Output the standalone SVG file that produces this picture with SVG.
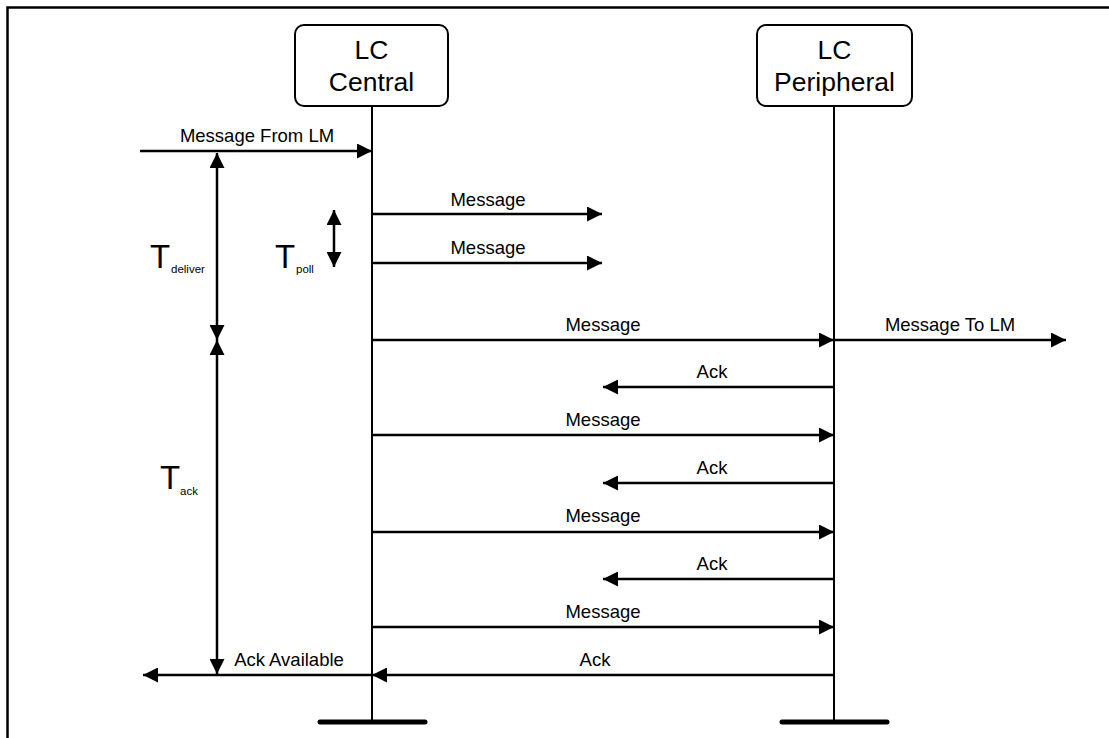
<svg xmlns="http://www.w3.org/2000/svg" width="1109" height="738" viewBox="0 0 1109 738">
<defs>
<style>
.frame{fill:none;stroke:#000;stroke-width:2.5}
.box{fill:#fff;stroke:#000;stroke-width:2}
.life{stroke:#000;stroke-width:2;fill:none}
.bar{stroke:#000;stroke-width:5;stroke-linecap:round}
.msg{stroke:#000;stroke-width:2.5;fill:none;marker-end:url(#ah)}
.dbl{stroke:#000;stroke-width:2.5;fill:none;marker-end:url(#ah);marker-start:url(#ah)}
text{font-family:"Liberation Sans",Arial,sans-serif;fill:#000}
.node{font-size:26.5px;text-anchor:middle}
.lbl{font-size:18.5px;text-anchor:middle}
.big{font-size:33px}
.sub{font-size:11.5px}
</style>
<marker id="ah" markerUnits="userSpaceOnUse" markerWidth="16" markerHeight="15" refX="15" refY="7.5" orient="auto-start-reverse" viewBox="0 0 16 15">
<path d="M0,0 L15,7.5 L0,15 z" fill="#000"/>
</marker>
</defs>
<rect width="1109" height="738" fill="#fff"/>
<path class="frame" d="M7.5,738 V7.5 H1109"/>

<g id="lifelines">
<line class="life" x1="372" y1="106" x2="372" y2="722"/>
<line class="life" x1="834" y1="106" x2="834" y2="722"/>
<line class="bar" x1="320" y1="722" x2="425" y2="722"/>
<line class="bar" x1="782" y1="722" x2="887" y2="722"/>
</g>

<g id="central">
<rect class="box" x="295" y="25" width="153" height="81" rx="9"/>
<text class="node" x="371.5" y="59">LC</text>
<text class="node" x="371.5" y="91">Central</text>
</g>
<g id="peripheral">
<rect class="box" x="757" y="25" width="155" height="81" rx="9"/>
<text class="node" x="834.5" y="59">LC</text>
<text class="node" x="834.5" y="91">Peripheral</text>
</g>

<g id="connectors">
<line class="msg" x1="140" y1="151" x2="372" y2="151"/>
<line class="msg" x1="372" y1="214" x2="602" y2="214"/>
<line class="msg" x1="372" y1="263" x2="602" y2="263"/>
<line class="msg" x1="372" y1="340" x2="834" y2="340"/>
<line class="msg" x1="834" y1="340" x2="1066" y2="340"/>
<line class="msg" x1="834" y1="387" x2="603" y2="387"/>
<line class="msg" x1="372" y1="435" x2="834" y2="435"/>
<line class="msg" x1="834" y1="483" x2="603" y2="483"/>
<line class="msg" x1="372" y1="532" x2="834" y2="532"/>
<line class="msg" x1="834" y1="579" x2="603" y2="579"/>
<line class="msg" x1="372" y1="627" x2="834" y2="627"/>
<line class="msg" x1="834" y1="675" x2="372" y2="675"/>
<line class="msg" x1="372" y1="675" x2="143" y2="675"/>
<line class="dbl" x1="217" y1="153" x2="217" y2="340"/>
<line class="dbl" x1="217" y1="340" x2="217" y2="674"/>
<line class="dbl" x1="334" y1="210" x2="334" y2="267"/>
</g>

<g id="labels">
<text class="lbl" x="257" y="142">Message From LM</text>
<text class="lbl" x="488" y="206">Message</text>
<text class="lbl" x="488" y="254">Message</text>
<text class="lbl" x="603" y="331">Message</text>
<text class="lbl" x="950" y="331">Message To LM</text>
<text class="lbl" x="712" y="378">Ack</text>
<text class="lbl" x="603" y="426">Message</text>
<text class="lbl" x="712" y="474">Ack</text>
<text class="lbl" x="603" y="522">Message</text>
<text class="lbl" x="712" y="570">Ack</text>
<text class="lbl" x="603" y="618">Message</text>
<text class="lbl" x="595" y="666">Ack</text>
<text class="lbl" x="289" y="666">Ack Available</text>
</g>

<g id="timings">
<text class="big" x="150" y="268">T</text>
<text class="sub" x="171" y="273">deliver</text>
<text class="big" x="275" y="268">T</text>
<text class="sub" x="296" y="273">poll</text>
<text class="big" x="160" y="489">T</text>
<text class="sub" x="180" y="495">ack</text>
</g>
</svg>
